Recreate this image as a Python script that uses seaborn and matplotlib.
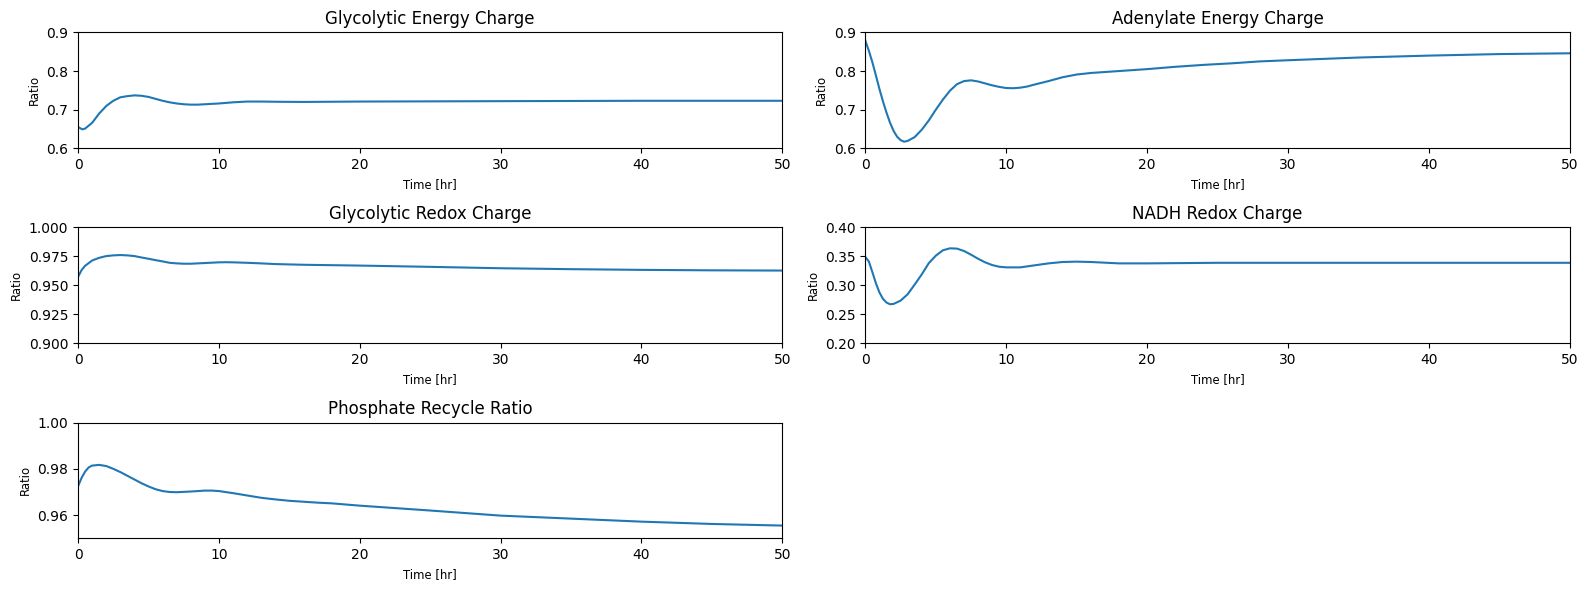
import numpy as np
import pandas as pd
import matplotlib
matplotlib.use("Agg")
import matplotlib.pyplot as plt
import seaborn as sns

# ---- data ----
t_gec = [0, 0.3, 0.5, 1, 1.5, 2, 2.5, 3, 3.5, 4, 4.5, 5, 5.5, 6, 6.5, 7, 7.5, 8, 8.5, 9, 10,
         11, 12, 13, 14, 16, 20, 30, 40, 50]
v_gec = [0.655, 0.649, 0.651, 0.666, 0.690, 0.7095, 0.723, 0.732, 0.735, 0.737, 0.736, 0.733,
         0.728, 0.723, 0.719, 0.716, 0.714, 0.713, 0.713, 0.714, 0.716, 0.719, 0.721, 0.721,
         0.7205, 0.720, 0.721, 0.722, 0.723, 0.723]

t_aec = [0, 0.25, 0.5, 0.75, 1, 1.25, 1.5, 1.75, 2, 2.25, 2.5, 2.75, 3, 3.5, 4, 4.5, 5, 5.5,
         6, 6.5, 7, 7.5, 8, 8.5, 9, 9.5, 10, 10.5, 11, 11.5, 12, 13, 14, 15, 16, 18, 20, 22,
         24, 26, 28, 30, 35, 40, 45, 50]
v_aec = [0.878, 0.852, 0.822, 0.788, 0.753, 0.721, 0.692, 0.666, 0.645, 0.630, 0.621, 0.617,
         0.619, 0.629, 0.648, 0.672, 0.700, 0.726, 0.749, 0.766, 0.774, 0.776, 0.773, 0.768,
         0.763, 0.759, 0.756, 0.7555, 0.757, 0.760, 0.765, 0.774, 0.784, 0.791, 0.795, 0.800,
         0.805, 0.811, 0.816, 0.820, 0.825, 0.828, 0.835, 0.840, 0.844, 0.846]

t_grc = [0, 0.25, 0.5, 1, 1.5, 2, 2.5, 3, 3.5, 4, 4.5, 5, 5.5, 6, 6.5, 7, 7.5, 8, 9, 10,
         10.5, 11, 12, 13, 14, 16, 20, 25, 30, 35, 40, 45, 50]
v_grc = [0.9574, 0.9632, 0.9669, 0.9715, 0.9738, 0.9753, 0.9759, 0.9762, 0.9759, 0.9753,
         0.9741, 0.9730, 0.9718, 0.9707, 0.9695, 0.9690, 0.9687, 0.9687, 0.9693, 0.9699,
         0.9700, 0.9699, 0.9695, 0.9690, 0.9684, 0.9678, 0.9671, 0.9660, 0.9648, 0.9640,
         0.9634, 0.9630, 0.9628]

t_nadh = [0, 0.25, 0.5, 0.75, 1, 1.25, 1.5, 1.75, 2, 2.5, 3, 3.5, 4, 4.5, 5, 5.5, 6, 6.5, 7,
          7.5, 8, 8.5, 9, 9.5, 10, 11, 12, 13, 14, 15, 16, 18, 20, 25, 30, 40, 50]
v_nadh = [0.349, 0.341, 0.3224, 0.3033, 0.2876, 0.2766, 0.2703, 0.2674, 0.268, 0.2737, 0.2847,
          0.3015, 0.319, 0.3384, 0.3513, 0.3606, 0.364, 0.3635, 0.3594, 0.353, 0.346, 0.3398,
          0.3351, 0.3322, 0.3311, 0.3311, 0.3346, 0.338, 0.3404, 0.341, 0.3404, 0.338, 0.338,
          0.339, 0.339, 0.339, 0.339]

t_prr = [0, 0.25, 0.5, 0.75, 1, 1.5, 2, 2.5, 3, 3.5, 4, 4.5, 5, 5.5, 6, 6.5, 7, 8, 9, 9.5, 10,
         11, 12, 13, 14, 15, 16, 17, 18, 20, 25, 30, 35, 40, 45, 50]
v_prr = [0.9725, 0.9761, 0.9788, 0.9806, 0.9814, 0.9817, 0.9812, 0.9800, 0.9786, 0.9770,
         0.9754, 0.9738, 0.9724, 0.9712, 0.9704, 0.9700, 0.9699, 0.9702, 0.9706, 0.9706,
         0.9704, 0.9695, 0.9685, 0.9675, 0.9668, 0.9662, 0.9658, 0.9654, 0.9651, 0.9641,
         0.9620, 0.9598, 0.9585, 0.9572, 0.9562, 0.9555]

titles = ["Glycolytic Energy Charge", "Adenylate Energy Charge", "Glycolytic Redox Charge",
          "NADH Redox Charge", "Phosphate Recycle Ratio"]
ylims = [(0.6, 0.9), (0.6, 0.9), (0.9, 1.0), (0.2, 0.4), (0.95, 1.0)]
series = [(t_gec, v_gec), (t_aec, v_aec), (t_grc, v_grc), (t_nadh, v_nadh), (t_prr, v_prr)]

fig, axes = plt.subplots(3, 2, figsize=(15.9, 5.9), dpi=100)
axes = axes.flatten()
for i, (ax, (tt, vv)) in enumerate(zip(axes, series)):
    df = pd.DataFrame({"t": tt, "v": vv})
    sns.lineplot(data=df, x="t", y="v", ax=ax, color="#1f77b4", linewidth=1.5)
    ax.set_xlim(0, 50)
    ax.set_ylim(*ylims[i])
    ax.set_title(titles[i], fontsize=12)
    ax.set_xlabel("Time [hr]", fontsize="small")
    ax.set_ylabel("Ratio", fontsize="small")
axes[4].set_yticks([0.96, 0.98, 1.00])
axes[5].axis("off")

fig.subplots_adjust(left=0.0491, right=0.9872, top=0.945, bottom=0.0876, wspace=0.118, hspace=0.684)
fig.savefig("out.png", dpi=100)
